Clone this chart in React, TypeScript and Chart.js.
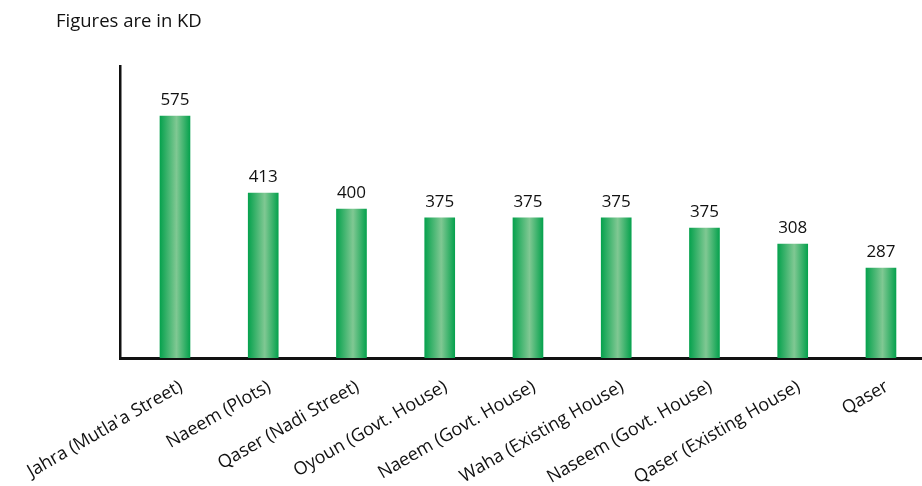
import React, { useEffect, useRef } from "react";
import { Chart, registerables } from "chart.js";

Chart.register(...registerables);

const categories = [
  "Jahra (Mutla'a Street)",
  "Naeem (Plots)",
  "Qaser (Nadi Street)",
  "Oyoun (Govt. House)",
  "Naeem (Govt. House)",
  "Waha (Existing House)",
  "Naseem (Govt. House)",
  "Qaser (Existing House)",
  "Qaser",
];

// figures printed above the bars (KD)
const valueLabels = [575, 413, 400, 375, 375, 375, 375, 308, 287];

// drawn length of each bar as it appears in the picture (same KD-scaled units, 575 bar as reference)
const barLevels = [575, 392, 354, 333, 333, 333, 309, 271, 214];

const yMax = 694;
const titleText = "Figures are in KD";

const FONT = "'Open Sans', 'Noto Sans', sans-serif";

export default function App() {
  const ref = useRef<HTMLCanvasElement | null>(null);

  useEffect(() => {
    const canvas = ref.current;
    if (!canvas) return;

    const labelPlugin = {
      id: "valueLabels",
      afterDatasetsDraw(chart: any) {
        const ctx = chart.ctx;
        const meta = chart.getDatasetMeta(0);
        ctx.save();
        ctx.fillStyle = "#111";
        ctx.font = `17px ${FONT}`;
        ctx.textAlign = "center";
        ctx.textBaseline = "alphabetic";
        meta.data.forEach((el: any, i: number) => {
          ctx.fillText(String(valueLabels[i]), el.x, el.y - 11);
        });
        ctx.restore();
      },
      afterDraw(chart: any) {
        const ctx = chart.ctx;
        ctx.save();
        ctx.fillStyle = "#111";
        ctx.font = `18.5px ${FONT}`;
        ctx.textAlign = "left";
        ctx.textBaseline = "alphabetic";
        ctx.fillText(titleText, 56, 27);
        ctx.restore();
      },
    };

    const chart = new Chart(canvas, {
      type: "bar",
      data: {
        datasets: [
          {
            data: barLevels.map((v, i) => ({ x: i, y: v })),
            barThickness: 30,
            borderWidth: 0,
            backgroundColor: (c: any) => {
              const ch = c.chart;
              if (!ch.chartArea || c.dataIndex === undefined) return "#00a651";
              const x = ch.scales.x.getPixelForValue(c.dataIndex);
              const g = ch.ctx.createLinearGradient(x - 15, 0, x + 15, 0);
              g.addColorStop(0, "#07a24e");
              g.addColorStop(0.55, "#80c893");
              g.addColorStop(1, "#07a24e");
              return g;
            },
          },
        ],
      },
      options: {
        animation: false,
        responsive: false,
        maintainAspectRatio: false,
        layout: { padding: { left: 120, right: 0, top: 66, bottom: 0 } },
        plugins: {
          legend: { display: false },
          tooltip: { enabled: false },
          title: { display: false },
        },
        scales: {
          x: {
            type: "linear",
            offset: false,
            min: -0.623,
            max: 8.465,
            grid: { display: false, drawTicks: false, offset: false },
            border: { display: true, color: "#111", width: 3 },
            afterBuildTicks: (scale: any) => {
              scale.ticks = categories.map((_, i) => ({ value: i }));
            },
            afterFit: (scale: any) => {
              scale.height = 128;
              scale.paddingLeft = 0;
              scale.paddingRight = 0;
            },
            ticks: {
              autoSkip: false,
              minRotation: 30,
              maxRotation: 30,
              padding: 18,
              labelOffset: 6,
              color: "#111",
              font: { family: FONT, size: 18 },
              callback: (v: any) => categories[v as number] ?? "",
            },
          },
          y: {
            min: 0,
            max: yMax,
            grid: { display: false, drawTicks: false },
            border: { display: true, color: "#111", width: 2.5 },
            ticks: { display: false },
            afterFit: (scale: any) => {
              scale.width = 0;
            },
          },
        },
      },
      plugins: [labelPlugin],
    } as any);

    return () => chart.destroy();
  }, []);

  return (
    <div style={{ position: "fixed", left: 0, top: 0, width: 922, height: 486, background: "#fff" }}>
      <canvas ref={ref} width={922} height={486} style={{ width: 922, height: 486, display: "block" }} />
    </div>
  );
}
